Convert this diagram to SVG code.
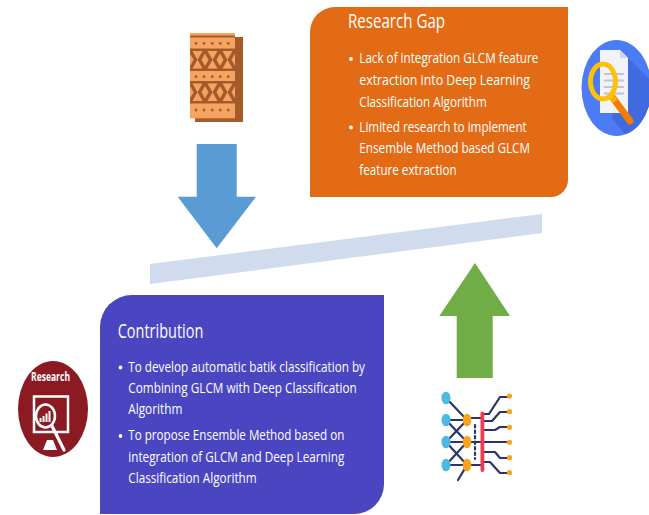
<svg xmlns="http://www.w3.org/2000/svg" width="649" height="515" viewBox="0 0 649 515">
  <style>
    .head { font-family: "Open Sans", "Noto Sans", sans-serif; font-size: 20px; fill: #ffffff; }
    .item { font-family: "Open Sans", "Noto Sans", sans-serif; font-size: 15px; fill: #ffffff; }
    .dot { fill: #ffffff; }
    .net { stroke: #2b3468; stroke-width: 2.2; fill: none; stroke-linecap: round; stroke-linejoin: round; }
    .bk { fill: #a65a2a; }
    .lt { fill: #f4a460; }
  </style>
  <defs>
    <clipPath id="searchClip">
      <ellipse cx="616.5" cy="88" rx="35" ry="48"/>
    </clipPath>
  </defs>

  <rect width="649" height="515" fill="#ffffff"/>

  <!-- balance beam -->
  <g id="balance-bar">
    <polygon points="150,264 542,214 542,233 150,284" fill="#d0dcee"/>
  </g>

  <!-- arrows -->
  <g id="connectors">
    <polygon points="196.7,144 236.7,144 236.7,196.7 256,196.7 216.7,248.3 177.7,196.7 196.7,196.7" fill="#5b9bd5"/>
    <polygon points="475,263 510,316 492.7,316 492.7,378 456.7,378 456.7,316 439.3,316" fill="#70ad47"/>
  </g>

  <!-- research gap box -->
  <g id="research-gap">
    <path d="M310,32 A25,25 0 0 1 335,7 L568,7 L568,180 A17,17 0 0 1 551,197 L310,197 Z" fill="#e36b16"/>
    <text class="head" x="348" y="28" textLength="97" lengthAdjust="spacingAndGlyphs">Research Gap</text>
    <circle class="dot" cx="351" cy="59" r="1.9"/>
    <text class="item" x="359.3" y="63.3" textLength="179" lengthAdjust="spacingAndGlyphs">Lack of integration GLCM feature</text>
    <text class="item" x="359.3" y="85" textLength="170.7" lengthAdjust="spacingAndGlyphs">extraction into Deep Learning</text>
    <text class="item" x="359.3" y="106.5" textLength="127.4" lengthAdjust="spacingAndGlyphs">Classification Algorithm</text>
    <circle class="dot" cx="351" cy="127.5" r="1.9"/>
    <text class="item" x="359.3" y="131.7" textLength="167.4" lengthAdjust="spacingAndGlyphs">Limited research to implement</text>
    <text class="item" x="359.3" y="153" textLength="170.7" lengthAdjust="spacingAndGlyphs">Ensemble Method based GLCM</text>
    <text class="item" x="359.3" y="175" textLength="97.4" lengthAdjust="spacingAndGlyphs">feature extraction</text>
  </g>

  <!-- contribution box -->
  <g id="contribution">
    <path d="M100,327 A32,32 0 0 1 132,295 L384,295 L384,484 A30,30 0 0 1 354,514 L100,514 Z" fill="#4a45c1"/>
    <text class="head" x="117.7" y="337.5" textLength="85.6" lengthAdjust="spacingAndGlyphs">Contribution</text>
    <circle class="dot" cx="120.5" cy="367.5" r="1.9"/>
    <text class="item" x="128.3" y="371.7" textLength="236.7" lengthAdjust="spacingAndGlyphs">To develop automatic batik classification by</text>
    <text class="item" x="128.3" y="393.3" textLength="228.4" lengthAdjust="spacingAndGlyphs">Combining GLCM with Deep Classification</text>
    <text class="item" x="128.3" y="414" textLength="54" lengthAdjust="spacingAndGlyphs">Algorithm</text>
    <circle class="dot" cx="120.5" cy="436" r="1.9"/>
    <text class="item" x="128.3" y="440" textLength="216" lengthAdjust="spacingAndGlyphs">To propose Ensemble Method based on</text>
    <text class="item" x="128.3" y="461.7" textLength="216" lengthAdjust="spacingAndGlyphs">integration of GLCM and Deep Learning</text>
    <text class="item" x="128.3" y="482.7" textLength="128.4" lengthAdjust="spacingAndGlyphs">Classification Algorithm</text>
  </g>

  <!-- batik tile icon -->
  <g id="batik-icon">
    <rect x="195" y="37" width="48" height="85" class="bk"/>
    <rect x="190" y="33" width="45" height="85.3" class="lt"/>
    <rect x="190" y="35.5" width="45" height="2" class="bk"/>
    <g class="bk">
      <circle cx="196" cy="43.3" r="1.4"/><circle cx="204" cy="43.3" r="1.4"/><circle cx="212.3" cy="43.3" r="1.4"/><circle cx="220.3" cy="43.3" r="1.4"/><circle cx="228.3" cy="43.3" r="1.4"/>
      <circle cx="196" cy="76.7" r="1.4"/><circle cx="204" cy="76.7" r="1.4"/><circle cx="212.3" cy="76.7" r="1.4"/><circle cx="220.3" cy="76.7" r="1.4"/><circle cx="228.3" cy="76.7" r="1.4"/>
      <circle cx="196" cy="110" r="1.4"/><circle cx="204" cy="110" r="1.4"/><circle cx="212.3" cy="110" r="1.4"/><circle cx="220.3" cy="110" r="1.4"/><circle cx="228.3" cy="110" r="1.4"/>
      <rect x="190" y="48.5" width="45" height="22.5"/>
      <rect x="190" y="81" width="45" height="22.5"/>
    </g>
    <g class="lt">
      <!-- upper woven band -->
      <polygon points="192.5,51 202.5,51 197.5,59.8"/><polygon points="192.5,68.5 202.5,68.5 197.5,59.8"/>
      <polygon points="207.5,51 217.5,51 212.5,59.8"/><polygon points="207.5,68.5 217.5,68.5 212.5,59.8"/>
      <polygon points="222.5,51 232.5,51 227.5,59.8"/><polygon points="222.5,68.5 232.5,68.5 227.5,59.8"/>
      <polygon points="205,53.5 208.5,59.8 205,66.1 201.5,59.8"/><polygon points="220,53.5 223.5,59.8 220,66.1 216.5,59.8"/>
      <polygon points="190,53.5 193.5,59.8 190,66.1"/><polygon points="235,53.5 231.5,59.8 235,66.1"/>
      <!-- lower woven band -->
      <polygon points="192.5,83.5 202.5,83.5 197.5,92.3"/><polygon points="192.5,101 202.5,101 197.5,92.3"/>
      <polygon points="207.5,83.5 217.5,83.5 212.5,92.3"/><polygon points="207.5,101 217.5,101 212.5,92.3"/>
      <polygon points="222.5,83.5 232.5,83.5 227.5,92.3"/><polygon points="222.5,101 232.5,101 227.5,92.3"/>
      <polygon points="205,86 208.5,92.3 205,98.6 201.5,92.3"/><polygon points="220,86 223.5,92.3 220,98.6 216.5,92.3"/>
      <polygon points="190,86 193.5,92.3 190,98.6"/><polygon points="235,86 231.5,92.3 235,98.6"/>
    </g>
  </g>

  <!-- search document icon -->
  <g id="search-icon">
    <ellipse cx="616.5" cy="88" rx="35" ry="48" fill="#4b7bf5"/>
    <polygon points="628,58 660,90 660,140 630,140 612,118" fill="#3f6ae0" clip-path="url(#searchClip)"/>
    <path d="M600,50 L620,50 L628,58 L628,113 L600,113 Z" fill="#f1f3f9"/>
    <path d="M620,50 L620,58 L628,58 Z" fill="#cfd6e6"/>
    <g stroke="#bfc5d6" stroke-width="2">
      <line x1="604" y1="74" x2="624" y2="74"/>
      <line x1="604" y1="80.5" x2="624" y2="80.5"/>
      <line x1="604" y1="87" x2="624" y2="87"/>
      <line x1="604" y1="93.5" x2="624" y2="93.5"/>
    </g>
    <line x1="613" y1="98" x2="630" y2="121" stroke="#f57c00" stroke-width="7" stroke-linecap="round"/>
    <line x1="611" y1="96" x2="615" y2="101.5" stroke="#ffb300" stroke-width="6"/>
    <ellipse cx="603" cy="81.5" rx="12.5" ry="17.5" fill="none" stroke="#ffc107" stroke-width="5"/>
  </g>

  <!-- research badge icon -->
  <g id="research-icon">
    <ellipse cx="53" cy="409" rx="35" ry="48" fill="#8b1a22"/>
    <text x="31" y="380.5" textLength="39" lengthAdjust="spacingAndGlyphs" font-family="Open Sans, Noto Sans, sans-serif" font-size="12" font-weight="bold" fill="#ffffff">Research</text>
    <rect x="34" y="396.5" width="34" height="35.5" fill="none" stroke="#ffffff" stroke-width="2.5"/>
    <polygon points="43,450 57,450 53,440 47,440" fill="#ffffff"/>
    <line x1="51" y1="424" x2="64" y2="450" stroke="#ffffff" stroke-width="3.2" stroke-linecap="round"/>
    <ellipse cx="45.5" cy="416" rx="9.5" ry="11.5" fill="#8b1a22" stroke="#ffffff" stroke-width="2.5"/>
    <g fill="#ffffff">
      <rect x="39.5" y="418" width="2" height="4"/>
      <rect x="42.5" y="416" width="2" height="6"/>
      <rect x="45.5" y="413.5" width="2" height="8.5"/>
      <rect x="48.5" y="411" width="2" height="11"/>
    </g>
  </g>

  <!-- neural network icon -->
  <g id="network-icon">
    <g class="net">
      <line x1="446" y1="398" x2="467" y2="420"/>
      <line x1="446" y1="420" x2="467" y2="420"/>
      <line x1="446" y1="420" x2="467" y2="442"/>
      <line x1="446" y1="442" x2="467" y2="420"/>
      <line x1="446" y1="442" x2="467" y2="442"/>
      <line x1="446" y1="442" x2="467" y2="465"/>
      <line x1="446" y1="465" x2="467" y2="442"/>
      <line x1="446" y1="465" x2="467" y2="465"/>
      <line x1="467" y1="465" x2="458" y2="480"/>
      <line x1="467" y1="418" x2="482" y2="418"/>
      <line x1="467" y1="442" x2="482" y2="442"/>
      <line x1="467" y1="465" x2="482" y2="465"/>
      <polyline points="484,414 489,414 500,397 508,397"/>
      <polyline points="484,421 492,421 500,412 508,412"/>
      <polyline points="484,430 495,430 500,427 508,427"/>
      <polyline points="484,442 508,442"/>
      <polyline points="484,452 495,452 500,458 508,458"/>
      <polyline points="484,462 490,462 500,473 508,473"/>
      <line x1="475" y1="425" x2="475" y2="459" stroke-dasharray="2.5,3"/>
    </g>
    <g fill="#4cb8e4">
      <ellipse cx="446" cy="398" rx="4.5" ry="6.3"/>
      <ellipse cx="446" cy="420" rx="4.5" ry="6.3"/>
      <ellipse cx="446" cy="442" rx="4.5" ry="6.3"/>
      <ellipse cx="446" cy="465" rx="4.5" ry="6.3"/>
    </g>
    <g fill="#f8a31c">
      <ellipse cx="467" cy="420" rx="4.3" ry="6.3"/>
      <ellipse cx="467" cy="442" rx="4.3" ry="6.3"/>
      <ellipse cx="467" cy="465" rx="4.3" ry="6.3"/>
      <circle cx="509.5" cy="396" r="2.6"/>
      <circle cx="509.5" cy="411.7" r="2.6"/>
      <circle cx="509.5" cy="427.3" r="2.6"/>
      <circle cx="509.5" cy="442.3" r="2.6"/>
      <circle cx="509.5" cy="457.7" r="2.6"/>
      <circle cx="509.5" cy="472.7" r="2.6"/>
    </g>
    <rect x="480.5" y="411.5" width="3.8" height="60.5" rx="1.9" fill="#ef3b4f"/>
  </g>
</svg>
